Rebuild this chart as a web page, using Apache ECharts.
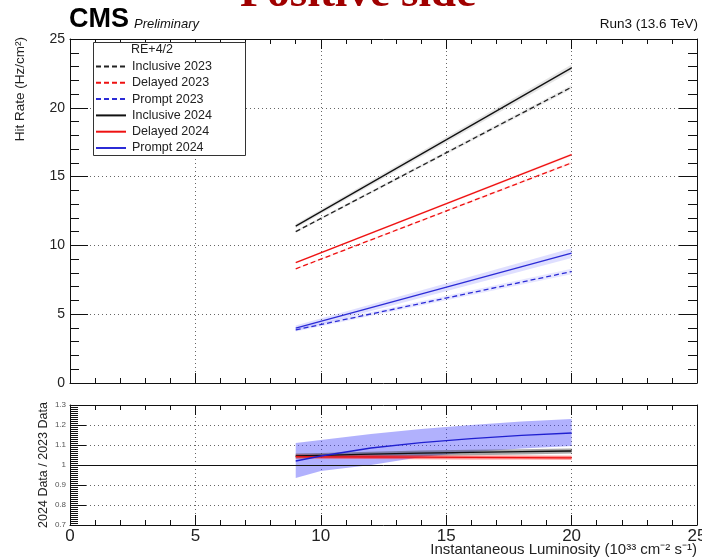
<!DOCTYPE html>
<html><head><meta charset="utf-8">
<script src="https://cdn.jsdelivr.net/npm/echarts@6/dist/echarts.min.js"></script>
<style>html,body{margin:0;padding:0;background:#fff}#c{width:702px;height:560px}</style>
</head><body><div id="c"></div>
<script>
// ---- data ----
const xFit = [9, 20];
const inclusive2023 = [11.0, 21.5];
const delayed2023 = [8.3, 16.0];
const prompt2023 = [3.86, 8.1];
const inclusive2024 = [11.4, 22.9];
const delayed2024 = [8.75, 16.6];
const prompt2024 = [3.98, 9.44];
const inclusive2023Err = [0.08, 0.15];
const delayed2023Err = [0.06, 0.1];
const prompt2023Err = [0.12, 0.2];
const inclusive2024Err = [0.15, 0.25];
const delayed2024Err = [0.06, 0.1];
const prompt2024Err = [0.2, 0.35];

const xRatio = [9, 10, 12, 14, 16, 18, 20];
const ratioInclusive = [1.045, 1.048, 1.054, 1.059, 1.063, 1.067, 1.07];
const ratioInclusiveLo = [1.033, 1.036, 1.041, 1.045, 1.049, 1.053, 1.057];
const ratioInclusiveHi = [1.057, 1.06, 1.066, 1.072, 1.076, 1.079, 1.082];
const ratioDelayed = [1.042, 1.041, 1.04, 1.039, 1.038, 1.037, 1.036];
const ratioDelayedLo = [1.032, 1.031, 1.03, 1.029, 1.028, 1.027, 1.026];
const ratioDelayedHi = [1.052, 1.051, 1.05, 1.049, 1.048, 1.047, 1.046];
const ratioPrompt = [1.02, 1.045, 1.085, 1.112, 1.132, 1.148, 1.16];
const ratioPromptLo = [0.935, 0.97, 1.0, 1.04, 1.065, 1.082, 1.095];
const ratioPromptHi = [1.11, 1.125, 1.155, 1.18, 1.2, 1.217, 1.23];

const legendNames = ['Inclusive 2023', 'Delayed 2023', 'Prompt 2023', 'Inclusive 2024', 'Delayed 2024', 'Prompt 2024'];

// ---- helpers ----
const FONT = '"Liberation Sans", Arial, Helvetica, sans-serif';
const pairs = (xs, ys) => xs.map((x, i) => [x, ys[i]]);
function lineSeries(name, xs, ys, color, dashed, xi, yi) {
  return { name, type: 'line', xAxisIndex: xi, yAxisIndex: yi, data: pairs(xs, ys),
    symbol: 'none', silent: true, z: 5,
    lineStyle: { color, width: 1.3, type: dashed ? [5, 3] : 'solid' }, itemStyle: { color } };
}
// error band drawn as one polygon through the axes' own coordinate system
function bandSeries(xs, lo, hi, fill, xi, yi) {
  return { type: 'custom', xAxisIndex: xi, yAxisIndex: yi, silent: true, z: 2,
    data: xs.map((x, i) => [x, lo[i], hi[i]]),
    encode: { x: 0, y: [1, 2] },
    renderItem: function (params, api) {
      if (params.dataIndex !== 0) return null;
      const top = xs.map((x, i) => api.coord([x, hi[i]]));
      const bot = xs.map((x, i) => api.coord([x, lo[i]])).reverse();
      return { type: 'polygon', shape: { points: top.concat(bot) }, style: { fill: fill, stroke: null } };
    } };
}
const lo = (v, e) => v.map((y, i) => y - e[i]);
const hi = (v, e) => v.map((y, i) => y + e[i]);

const dotted = { show: true, lineStyle: { color: '#666', type: [1, 3], width: 1 } };
function xAx(gi, pos, labels) {
  return { type: 'value', gridIndex: gi, position: pos, min: 0, max: 25, interval: 5,
    axisLine: { show: true, onZero: false, lineStyle: { color: '#111', width: 1 } },
    axisTick: { show: true, inside: true, length: 10, lineStyle: { color: '#111' } },
    minorTick: { show: true, splitNumber: 5, length: 5, lineStyle: { color: '#111' } },
    axisLabel: labels ? { show: true, fontFamily: FONT, fontSize: 17, color: '#222', margin: 3,
      showMaxLabel: true } : { show: false },
    splitLine: pos === 'bottom' ? dotted : { show: false }, minorSplitLine: { show: false } };
}
function yAx(gi, pos, min, max, interval, minorN, labelStyle, major, minor, ticks) {
  return { type: 'value', gridIndex: gi, position: pos, min, max, interval,
    axisLine: { show: true, onZero: false, lineStyle: { color: '#111', width: 1 } },
    axisTick: { show: ticks, inside: true, length: major, lineStyle: { color: '#111' } },
    minorTick: { show: ticks, splitNumber: minorN, length: minor, lineStyle: { color: '#111' } },
    axisLabel: labelStyle ? Object.assign({ show: true, fontFamily: FONT }, labelStyle) : { show: false },
    splitLine: pos === 'left' ? dotted : { show: false } };
}

const series = [];
// upper bands
series.push(bandSeries(xFit, lo(inclusive2023, inclusive2023Err), hi(inclusive2023, inclusive2023Err), 'rgba(0,0,0,0.08)', 0, 0));
series.push(bandSeries(xFit, lo(delayed2023, delayed2023Err), hi(delayed2023, delayed2023Err), 'rgba(255,0,0,0.08)', 0, 0));
series.push(bandSeries(xFit, lo(prompt2023, prompt2023Err), hi(prompt2023, prompt2023Err), 'rgba(60,60,255,0.12)', 0, 0));
series.push(bandSeries(xFit, lo(inclusive2024, inclusive2024Err), hi(inclusive2024, inclusive2024Err), 'rgba(0,0,0,0.1)', 0, 0));
series.push(bandSeries(xFit, lo(delayed2024, delayed2024Err), hi(delayed2024, delayed2024Err), 'rgba(255,0,0,0.1)', 0, 0));
series.push(bandSeries(xFit, lo(prompt2024, prompt2024Err), hi(prompt2024, prompt2024Err), 'rgba(80,80,255,0.18)', 0, 0));
// upper lines
series.push(lineSeries('Inclusive 2023', xFit, inclusive2023, '#222222', true, 0, 0));
series.push(lineSeries('Delayed 2023', xFit, delayed2023, '#ee1111', true, 0, 0));
series.push(lineSeries('Prompt 2023', xFit, prompt2023, '#2b2bd6', true, 0, 0));
series.push(lineSeries('Inclusive 2024', xFit, inclusive2024, '#111111', false, 0, 0));
series.push(lineSeries('Delayed 2024', xFit, delayed2024, '#ee1111', false, 0, 0));
series.push(lineSeries('Prompt 2024', xFit, prompt2024, '#2b2bd6', false, 0, 0));
// ratio bands
series.push(bandSeries(xRatio, ratioPromptLo, ratioPromptHi, 'rgba(70,70,250,0.42)', 2, 2));
series.push(bandSeries(xRatio, ratioInclusiveLo, ratioInclusiveHi, 'rgba(60,60,60,0.45)', 2, 2));
series.push(bandSeries(xRatio, ratioDelayedLo, ratioDelayedHi, 'rgba(255,30,30,0.5)', 2, 2));
// ratio lines
const rI = lineSeries('ratioInclusive', xRatio, ratioInclusive, '#111111', false, 2, 2);
rI.markLine = { silent: true, symbol: 'none', label: { show: false },
  lineStyle: { color: '#111', type: 'solid', width: 1 }, data: [{ yAxis: 1 }] };
series.push(rI);
series.push(lineSeries('ratioDelayed', xRatio, ratioDelayed, '#ee1111', false, 2, 2));
series.push(lineSeries('ratioPrompt', xRatio, ratioPrompt, '#2020d0', false, 2, 2));

const option = {
  animation: false,
  backgroundColor: '#fff',
  grid: [
    { left: 70, top: 39, width: 627, height: 344, outerBoundsMode: 'none', containLabel: false },
    { left: 70, top: 405, width: 627, height: 120, outerBoundsMode: 'none', containLabel: false }
  ],
  xAxis: [xAx(0, 'bottom', false), xAx(0, 'top', false), xAx(1, 'bottom', true), xAx(1, 'top', false)],
  yAxis: [
    yAx(0, 'left', 0, 25, 5, 5, { fontSize: 14, color: '#222', margin: 5 }, 18, 9, true),
    yAx(0, 'right', 0, 25, 5, 5, null, 18, 9, true),
    yAx(1, 'left', 0.7, 1.3, 0.1, 10, { fontSize: 8, color: '#555', margin: 4,
      formatter: v => String(Math.round(v * 10) / 10) }, 16, 8, true),
    yAx(1, 'right', 0.7, 1.3, 0.1, 10, null, 16, 8, false)
  ],
  legend: {
    data: legendNames, orient: 'vertical', left: 95, top: 60, itemWidth: 30, itemHeight: 12,
    itemGap: 3.3, padding: 0, selectedMode: false, z: 20,
    itemStyle: { opacity: 0 },
    textStyle: { fontFamily: FONT, fontSize: 12.5, color: '#222', padding: [0, 0, 0, 1] }
  },
  graphic: [
    { type: 'rect', shape: { x: 93.5, y: 42.5, width: 152, height: 113 }, silent: true, z: 1,
      style: { fill: '#fff', stroke: '#333', lineWidth: 1 } },
    { type: 'text', x: 152, y: 50, z: 21, style: { text: 'RE+4/2', font: '12.5px ' + FONT, fill: '#222', textAlign: 'center', textVerticalAlign: 'middle' } },
    { type: 'text', x: 358, y: 17, style: { text: 'Positive side', font: 'bold 45px "Liberation Serif", "DejaVu Serif", serif', fill: '#a00000', textAlign: 'center', textVerticalAlign: 'bottom' } },
    { type: 'text', x: 69, y: 33, style: { text: 'CMS', font: 'bold 27px ' + FONT, fill: '#000', textVerticalAlign: 'bottom' } },
    { type: 'text', x: 134, y: 31, style: { text: 'Preliminary', font: 'italic 13px ' + FONT, fill: '#111', textVerticalAlign: 'bottom' } },
    { type: 'text', x: 698, y: 31, style: { text: 'Run3 (13.6 TeV)', font: '13.5px ' + FONT, fill: '#111', textAlign: 'right', textVerticalAlign: 'bottom' } },
    { type: 'text', x: 20, y: 37, rotation: Math.PI / 2, style: { text: 'Hit Rate (Hz/cm²)', font: '13.5px ' + FONT, fill: '#222', textAlign: 'right', textVerticalAlign: 'middle' } },
    { type: 'text', x: 44, y: 465, rotation: Math.PI / 2, style: { text: '2024 Data / 2023 Data', font: '12.5px ' + FONT, fill: '#222', textAlign: 'center', textVerticalAlign: 'middle' } },
    { type: 'text', x: 697, y: 557, style: { text: 'Instantaneous Luminosity (10³³ cm⁻² s⁻¹)', font: '15px ' + FONT, fill: '#222', textAlign: 'right', textVerticalAlign: 'bottom' } }
  ],
  series
};
const chart = echarts.init(document.getElementById('c'), null, { renderer: 'canvas' });
chart.setOption(option);
</script></body></html>
